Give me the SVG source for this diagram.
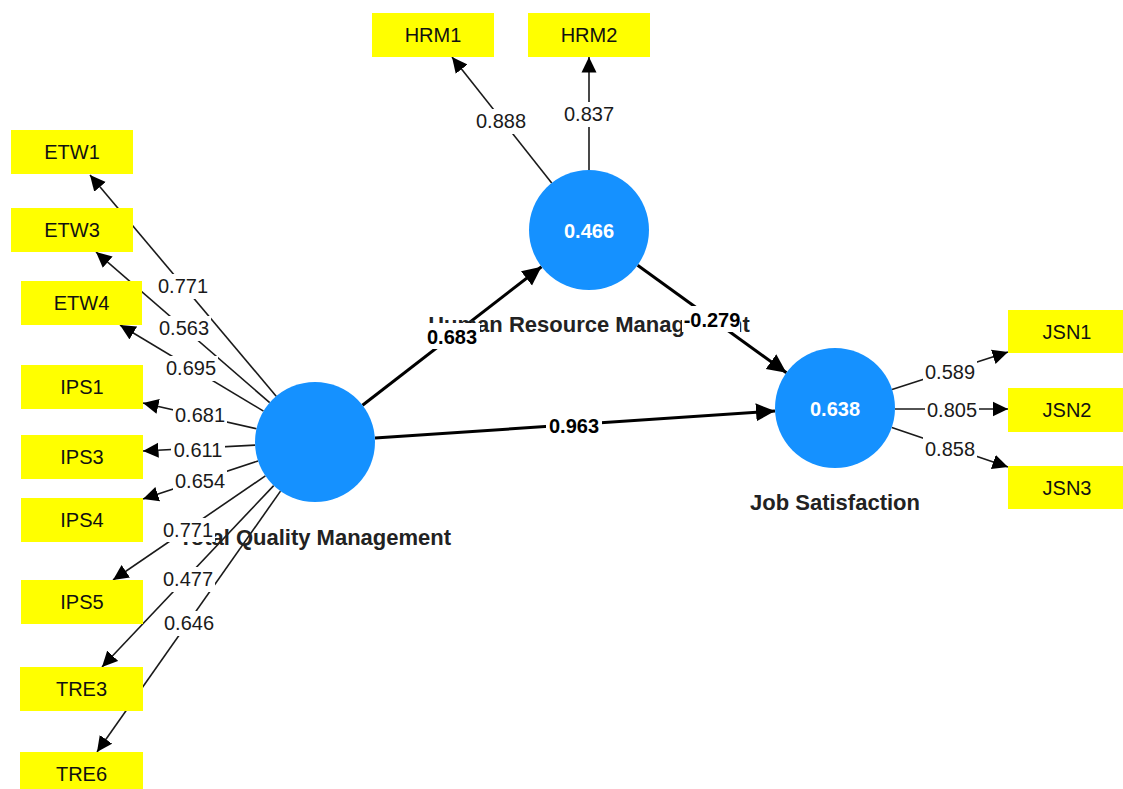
<svg xmlns="http://www.w3.org/2000/svg" width="1123" height="789" viewBox="0 0 1123 789">
<style>
.ind rect{fill:#ffff00}
.ind text{font-family:"Liberation Sans",Arial,sans-serif;font-size:20px;fill:#111;text-anchor:middle}
.lv circle{fill:#1591ff}
.lv .val{font-family:"Liberation Sans",Arial,sans-serif;font-size:20px;font-weight:bold;fill:#fff;text-anchor:middle}
.lv .name{font-family:"Liberation Sans",Arial,sans-serif;font-size:22px;font-weight:bold;fill:#222;text-anchor:middle}
.ld{stroke:#1a1a1a;stroke-width:1.6;fill:none;marker-end:url(#ah)}
.st{stroke:#000;stroke-width:3;fill:none;marker-end:url(#ahb)}
.lab rect{fill:#fff}
.lab text{font-family:"Liberation Sans",Arial,sans-serif;font-size:20px;fill:#1a1a1a;text-anchor:middle}
.lab.b text{font-weight:bold;fill:#000}
</style>
<defs>
<marker id="ah" markerUnits="userSpaceOnUse" markerWidth="16" markerHeight="16" viewBox="0 0 16 16" refX="15.5" refY="8" orient="auto"><path d="M0,0.5 L15.5,8 L0,15.5 Z" fill="#000"/></marker>
<marker id="ahb" markerUnits="userSpaceOnUse" markerWidth="20" markerHeight="20" viewBox="0 0 20 20" refX="19" refY="10" orient="auto"><path d="M0,1 L19,10 L0,19 Z" fill="#000"/></marker>
</defs>
<rect width="1123" height="789" fill="#fff"/>
<g id="connectors">
<line class="ld" x1="276.2" y1="396.2" x2="90" y2="175"/>
<line class="ld" x1="269.7" y1="402.7" x2="96" y2="252"/>
<line class="ld" x1="263.5" y1="411.1" x2="120" y2="325"/>
<line class="ld" x1="256.5" y1="428.7" x2="143" y2="403"/>
<line class="ld" x1="255.1" y1="445.1" x2="143" y2="451"/>
<line class="ld" x1="258.1" y1="460.9" x2="143" y2="499"/>
<line class="ld" x1="265.4" y1="475.9" x2="113" y2="580"/>
<line class="ld" x1="273.7" y1="485.6" x2="102" y2="667"/>
<line class="ld" x1="280.5" y1="491.1" x2="97" y2="752"/>
<line class="ld" x1="551.7" y1="183" x2="452" y2="57"/>
<line class="ld" x1="589" y1="170" x2="589" y2="57"/>
<line class="ld" x1="892" y1="389.5" x2="1008" y2="352"/>
<line class="ld" x1="895" y1="409" x2="1008" y2="409"/>
<line class="ld" x1="891.8" y1="427.4" x2="1008" y2="467"/>
<line class="st" x1="362.5" y1="405.3" x2="541.5" y2="266.7"/>
<line class="st" x1="637.6" y1="265.2" x2="786.4" y2="372.8"/>
<line class="st" x1="375" y1="438" x2="775" y2="411"/>
</g>
<g id="tqm" class="lv">
<circle cx="315" cy="442" r="60"/>
<text class="name" x="315" y="545">Total Quality Management</text>
</g>
<g id="hrm" class="lv">
<circle cx="589" cy="230" r="60"/>
<text class="val" x="589" y="238">0.466</text>
<text class="name" x="589" y="332">Human Resource Management</text>
</g>
<g id="js" class="lv">
<circle cx="835" cy="408" r="60"/>
<text class="val" x="835" y="416">0.638</text>
<text class="name" x="835" y="510">Job Satisfaction</text>
</g>
<g id="labels">
<g class="lab"><rect x="156" y="274" width="54" height="25"/><text x="183" y="293">0.771</text></g>
<g class="lab"><rect x="157" y="316" width="54" height="25"/><text x="184" y="335">0.563</text></g>
<g class="lab"><rect x="164" y="356" width="54" height="25"/><text x="191" y="375">0.695</text></g>
<g class="lab"><rect x="173" y="403" width="54" height="25"/><text x="200" y="422">0.681</text></g>
<g class="lab"><rect x="171" y="438" width="54" height="25"/><text x="198" y="457">0.611</text></g>
<g class="lab"><rect x="173" y="469" width="54" height="25"/><text x="200" y="488">0.654</text></g>
<g class="lab"><rect x="161" y="518" width="54" height="24"/><text x="188" y="537">0.771</text></g>
<g class="lab"><rect x="161" y="567" width="54" height="25"/><text x="188" y="586">0.477</text></g>
<g class="lab"><rect x="162" y="611" width="54" height="25"/><text x="189" y="630">0.646</text></g>
<g class="lab"><rect x="474" y="109" width="54" height="25"/><text x="501" y="128">0.888</text></g>
<g class="lab"><rect x="562" y="102" width="54" height="25"/><text x="589" y="121">0.837</text></g>
<g class="lab"><rect x="923" y="360" width="54" height="25"/><text x="950" y="379">0.589</text></g>
<g class="lab"><rect x="925" y="398" width="54" height="25"/><text x="952" y="417">0.805</text></g>
<g class="lab"><rect x="923" y="437" width="54" height="25"/><text x="950" y="456">0.858</text></g>
<g class="lab b"><rect x="425" y="323" width="55" height="26"/><text x="452" y="344">0.683</text></g>
<g class="lab b"><rect x="682" y="306" width="58" height="26"/><text x="712" y="327">-0.279</text></g>
<g class="lab b"><rect x="546" y="412" width="56" height="26"/><text x="574" y="433">0.963</text></g>
</g>
<g id="ETW1" class="ind"><rect x="11" y="130" width="122" height="44"/><text x="72" y="159">ETW1</text></g>
<g id="ETW3" class="ind"><rect x="11" y="208" width="122" height="44"/><text x="72" y="237">ETW3</text></g>
<g id="ETW4" class="ind"><rect x="21" y="281" width="121" height="44"/><text x="81.5" y="310">ETW4</text></g>
<g id="IPS1" class="ind"><rect x="21" y="365" width="122" height="44"/><text x="82" y="394">IPS1</text></g>
<g id="IPS3" class="ind"><rect x="21" y="435" width="122" height="44"/><text x="82" y="464">IPS3</text></g>
<g id="IPS4" class="ind"><rect x="21" y="498" width="122" height="44"/><text x="82" y="527">IPS4</text></g>
<g id="IPS5" class="ind"><rect x="21" y="580" width="122" height="44"/><text x="82" y="609">IPS5</text></g>
<g id="TRE3" class="ind"><rect x="20" y="667" width="123" height="44"/><text x="81.5" y="696">TRE3</text></g>
<g id="TRE6" class="ind"><rect x="20" y="752" width="123" height="44"/><text x="81.5" y="781">TRE6</text></g>
<g id="HRM1" class="ind"><rect x="372" y="13" width="122" height="44"/><text x="433" y="42">HRM1</text></g>
<g id="HRM2" class="ind"><rect x="528" y="13" width="122" height="44"/><text x="589" y="42">HRM2</text></g>
<g id="JSN1" class="ind"><rect x="1008" y="310" width="122" height="43"/><text x="1067" y="339">JSN1</text></g>
<g id="JSN2" class="ind"><rect x="1008" y="388" width="122" height="44"/><text x="1067" y="417">JSN2</text></g>
<g id="JSN3" class="ind"><rect x="1008" y="466" width="122" height="43"/><text x="1067" y="495">JSN3</text></g>
</svg>
